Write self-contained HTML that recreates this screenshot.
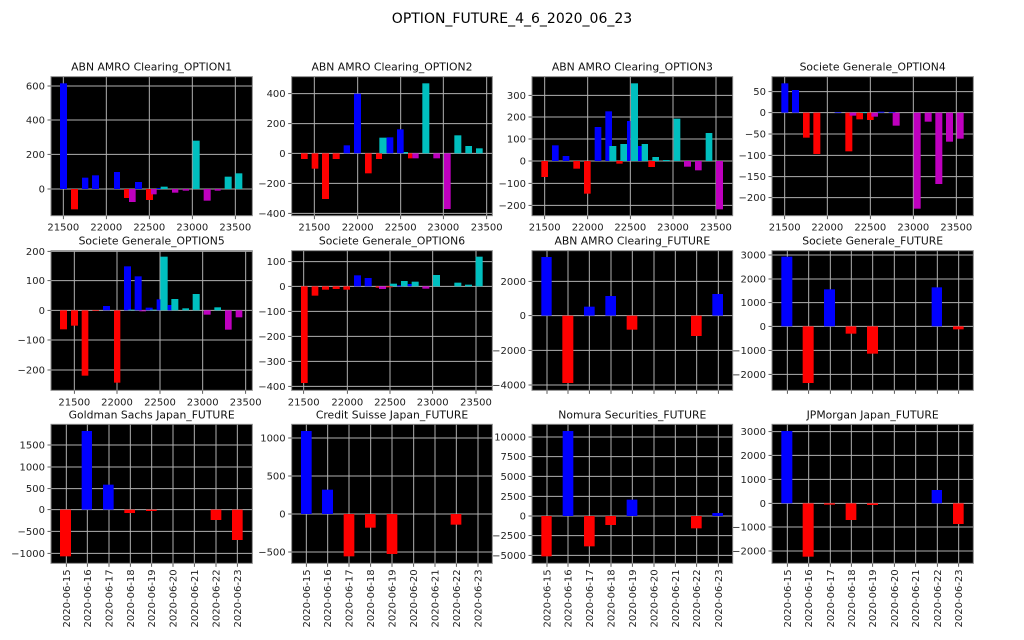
<!DOCTYPE html>
<html><head><meta charset="utf-8"><style>
html,body{margin:0;padding:0;background:#fff;}
svg{display:block;font-family:"DejaVu Sans","Liberation Sans",sans-serif;}
</style></head><body>
<svg id="s" width="1024" height="640" xmlns="http://www.w3.org/2000/svg">
<text x="512" y="23" text-anchor="middle" font-size="14" fill="#000">OPTION_FUTURE_4_6_2020_06_23</text>
<g id="g"></g>
</svg>
<script>
var C={b:"#0000ff",r:"#ff0000",c:"#00bfbf",m:"#bf00bf"};
var DT=["2020-06-15","2020-06-16","2020-06-17","2020-06-18","2020-06-19","2020-06-20","2020-06-21","2020-06-22","2020-06-23"];
function P(t,o,box,yt,xt,xl,bars,zero){return {t:t,o:o,box:box,yt:yt,xt:xt,xl:xl,bars:bars,zero:zero};}
var opt=["21500","22000","22500","23000","23500"];
var panels=[
P("ABN AMRO Clearing_OPTION1",[0,50],[153,757,80,497],[[600,108],[400,210],[200,313],[0,417]],[190,319,448,577,706],opt,
[["b",180,201,100],["r",213,234,478],["b",246,265,383],["b",276,297,376],["b",342,360,366],["r",372,387,444],["m",387,407,456],["b",405,426,396],["r",438,459,450],["m",453,470,433],["b",470,482,414],["c",482,503,410],["m",516,535,428],["m",548,567,422],["c",578,599,272],["m",611,632,452],["m",644,662,422],["c",674,695,380],["c",706,727,370]],417),
P("ABN AMRO Clearing_OPTION2",[0,50],[875,1477,80,497],[[400,131],[200,221],[0,310],[-200,400],[-400,490]],[943,1073,1202,1330,1460],opt,
[["r",903,923,327],["r",935,955,356],["r",966,987,447],["r",998,1019,327],["b",1031,1050,286],["b",1062,1083,131],["r",1095,1115,370],["r",1128,1146,327],["c",1138,1160,263],["b",1160,1180,262],["b",1191,1211,238],["c",1211,1224,306],["r",1224,1237,325],["m",1237,1256,325],["c",1267,1288,100],["m",1300,1320,325],["m",1332,1352,477],["c",1363,1384,256],["c",1396,1416,288],["c",1428,1448,295]],310),
P("ABN AMRO Clearing_OPTION3",[512,50],[60,662,80,497],[[300,136],[200,201],[100,267],[0,333],[-100,400],[-200,466]],[98,227,355,483,612],opt,
[["r",88,108,381],["b",120,140,286],["b",152,172,318],["r",184,204,356],["r",216,236,431],["b",248,268,231],["b",280,300,184],["c",292,313,288],["r",313,332,341],["c",325,345,282],["b",345,355,213],["c",357,378,100],["b",378,390,288],["c",389,408,282],["r",409,429,351],["c",421,441,321],["c",453,473,330],["c",485,505,206],["m",516,537,350],["m",549,569,361],["c",581,601,249],["m",612,633,478]],333),
P("Societe Generale_OPTION4",[512,50],[780,1384,80,497],[[50,125],[0,188],[-50,252],[-100,316],[-150,380],[-200,443]],[818,946,1075,1204,1333],opt,
[["b",808,829,100],["b",840,861,120],["r",873,893,263],["r",904,925,312],["b",968,988,186],["r",1000,1021,304],["m",1013,1033,197],["r",1033,1053,208],["c",1045,1066,186],["r",1065,1085,210],["m",1078,1098,200],["b",1097,1117,185],["b",1130,1150,186],["m",1142,1163,227],["m",1205,1226,476],["m",1238,1259,215],["m",1270,1291,402],["m",1302,1323,275],["m",1334,1355,266]],188),
P("Societe Generale_OPTION5",[0,230],[153,757,62,481],[[200,64],[100,152],[0,241],[-100,330],[-200,420]],[223,351,480,608,737],opt,
[["r",180,201,298],["r",213,234,287],["r",245,265,437],["r",277,297,243],["b",309,330,228],["r",342,361,458],["b",372,393,109],["c",385,406,239],["b",404,425,139],["m",418,438,244],["b",437,458,233],["c",450,470,239],["b",470,482,208],["c",481,503,80],["b",503,515,225],["c",514,535,207],["c",547,567,235],["c",578,599,192],["m",611,632,254],["c",643,663,232],["m",675,695,299],["m",707,727,262]],241),
P("Societe Generale_OPTION6",[0,230],[875,1477,62,481],[[100,95],[0,169],[-100,244],[-200,319],[-300,394],[-400,469]],[911,1042,1170,1298,1428],opt,
[["r",903,923,459],["r",935,955,197],["r",966,987,179],["r",998,1019,177],["r",1030,1050,179],["b",1062,1083,136],["b",1094,1115,144],["r",1127,1137,173],["m",1137,1158,177],["r",1158,1178,172],["c",1170,1191,161],["b",1191,1211,166],["c",1203,1223,153],["b",1223,1235,162],["c",1235,1256,155],["m",1267,1288,176],["c",1299,1320,135],["c",1363,1384,158],["c",1395,1416,164],["c",1427,1448,80]],169),
P("ABN AMRO Clearing_FUTURE",[512,230],[60,662,62,481],[[2000,154],[0,257],[-2000,361],[-4000,465]],[105,168,232,297,361,426,490,554,619],null,
[["b",88,119,81],["r",151,184,459],["b",216,248,230],["b",280,312,198],["r",344,376,299],["r",537,569,318],["b",601,633,192]],257),
P("Societe Generale_FUTURE",[512,230],[780,1384,62,481],[[3000,75],[2000,147],[1000,218],[0,289],[-1000,361],[-2000,433]],[826,890,955,1018,1082,1147,1211,1276,1340],null,
[["b",808,841,80],["r",872,905,459],["b",936,969,178],["r",1001,1033,311],["r",1065,1098,371],["b",1259,1290,172],["r",1323,1355,298]],289),
P("Goldman Sachs Japan_FUTURE",[0,400],[153,757,73,490],[[1500,135],[1000,201],[500,266],[0,329],[-500,394],[-1000,460]],[199,262,327,391,455,519,583,648,712],null,
[["r",180,213,469],["b",245,276,93],["b",309,341,254],["r",373,405,339],["r",438,470,333],["r",632,664,360],["r",696,728,420]],329),
P("Credit Suisse Japan_FUTURE",[0,400],[875,1477,73,490],[[1000,114],[500,228],[0,342],[-500,456]],[919,983,1047,1112,1176,1241,1305,1369,1434],null,
[["b",903,935,93],["b",966,999,269],["r",1031,1063,469],["r",1095,1127,383],["r",1160,1192,462],["r",1352,1384,374]],342),
P("Nomura Securities_FUTURE",[512,400],[60,662,73,490],[[10000,111],[7500,170],[5000,229],[2500,289],[0,348],[-2500,407],[-5000,466]],[105,168,232,297,361,426,490,554,619],null,
[["r",88,119,469],["b",152,184,93],["r",216,248,439],["r",280,312,375],["b",344,376,299],["r",537,569,385],["b",601,633,339]],348),
P("JPMorgan Japan_FUTURE",[512,400],[780,1384,73,490],[[3000,95],[2000,166],[1000,238],[0,310],[-1000,381],[-2000,453]],[826,890,955,1018,1082,1147,1211,1276,1340],null,
[["b",808,841,93],["r",872,905,470],["r",936,969,314],["r",1001,1033,360],["r",1065,1098,315],["b",1259,1290,270],["r",1323,1355,372]],310)
];
var h="";
function fmt(v){return v<0?"\u2212"+(-v):""+v;}
panels.forEach(function(p){
 var ox=p.o[0],oy=p.o[1];
 function X(z){return ox+z/3;} function Y(z){return oy+z/3;}
 var x0=X(p.box[0]),x1=X(p.box[1]),y0=Y(p.box[2]),y1=Y(p.box[3]);
 var dates=(oy==400);
 h+='<rect x="'+x0+'" y="'+y0+'" width="'+(x1-x0)+'" height="'+(y1-y0)+'" fill="#000"/>';
 p.yt.forEach(function(t){var y=Y(t[1]);h+='<line x1="'+x0+'" x2="'+x1+'" y1="'+y+'" y2="'+y+'" stroke="#b0b0b0" stroke-width="1"/>';
  h+='<line x1="'+(x0-3.5)+'" x2="'+x0+'" y1="'+y+'" y2="'+y+'" stroke="#333" stroke-width="0.8"/>';
  h+='<text x="'+(x0-6)+'" y="'+(y+3.5)+'" text-anchor="end" font-size="10" fill="#222">'+fmt(t[0])+'</text>';});
 p.xt.forEach(function(z,i){var x=X(z);h+='<line x1="'+x+'" x2="'+x+'" y1="'+y0+'" y2="'+y1+'" stroke="#b0b0b0" stroke-width="1"/>';
  h+='<line x1="'+x+'" x2="'+x+'" y1="'+y1+'" y2="'+(y1+3.5)+'" stroke="#333" stroke-width="0.8"/>';
  if(p.xl){h+='<text x="'+x+'" y="'+(y1+15)+'" text-anchor="middle" font-size="10" fill="#222">'+p.xl[i]+'</text>';}
  if(dates){h+='<text transform="translate('+(x+3.5)+','+(y1+6)+') rotate(-90)" text-anchor="end" font-size="10" fill="#222">'+DT[i]+'</text>';}
 });
 var yb=Y(p.zero);
 p.bars.forEach(function(b){var bx0=X(b[1]),bx1=X(b[2]),ye=Y(b[3]);
  var t=Math.min(ye,yb),hh=Math.abs(ye-yb);
  h+='<rect x="'+bx0+'" y="'+t+'" width="'+(bx1-bx0)+'" height="'+hh+'" fill="'+C[b[0]]+'"/>';});
 h+='<rect x="'+x0+'" y="'+y0+'" width="'+(x1-x0)+'" height="'+(y1-y0)+'" fill="none" stroke="#888" stroke-width="1"/>';
 h+='<text x="'+((x0+x1)/2)+'" y="'+(y0-6)+'" text-anchor="middle" font-size="10.8" fill="#111">'+p.t+'</text>';
});
document.getElementById("g").innerHTML=h;
</script>
</body></html>
